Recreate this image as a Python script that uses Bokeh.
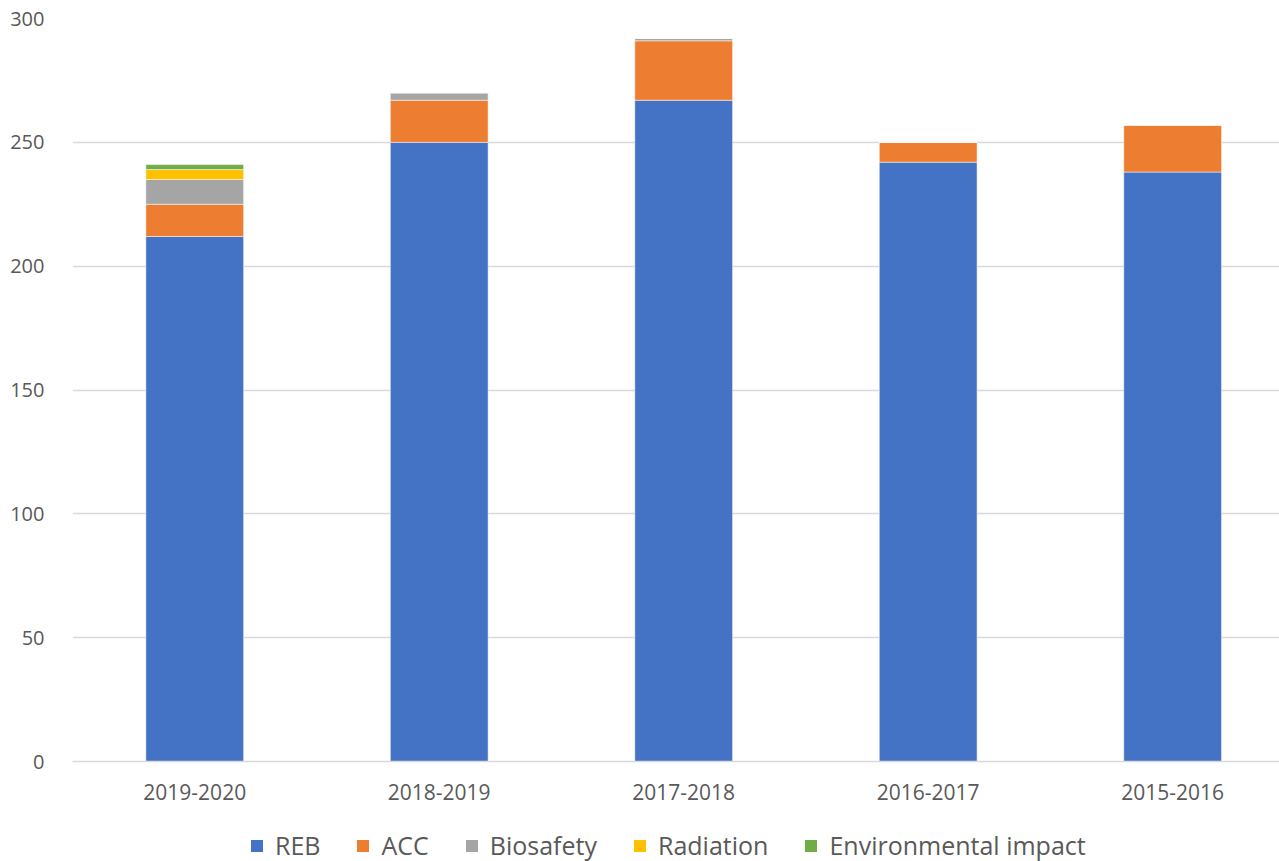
from bokeh.plotting import figure
from bokeh.layouts import column
from bokeh.models import ColumnDataSource, Range1d, FixedTicker, Legend, LegendItem
from bokeh.embed import file_html
from bokeh.resources import INLINE

categories = ["2019-2020", "2018-2019", "2017-2018", "2016-2017", "2015-2016"]
series = ["REB", "ACC", "Biosafety", "Radiation", "Environmental impact"]
reb = [212, 250, 267, 242, 238]
acc = [13, 17, 24, 8, 19]
biosafety = [10, 3, 1, 0, 0]
radiation = [4, 0, 0, 0, 0]
environmental = [2, 0, 0, 0, 0]
colors = ["#4472C4", "#ED7D31", "#A5A5A5", "#FFC000", "#70AD47"]
y_ticks = [0, 50, 100, 150, 200, 250, 300]

xs = [i + 0.5 for i in range(len(categories))]
source = ColumnDataSource(dict(x=xs, REB=reb, ACC=acc, Biosafety=biosafety,
                               Radiation=radiation, **{"Environmental impact": environmental}))

font = "Open Sans"
text_color = "#595959"

p = figure(frame_width=1207, frame_height=743, output_backend="svg", toolbar_location=None,
           x_range=Range1d(0, 4.937), y_range=Range1d(0, 300),
           min_border_left=72, min_border_right=0, min_border_top=18, min_border_bottom=68)
p.outline_line_color = None
p.background_fill_color = "white"

renderers = p.vbar_stack(series, x="x", width=0.4, source=source, color=colors,
                         line_color="white", line_width=0.5)

p.xgrid.grid_line_color = None
p.ygrid.grid_line_color = "#D9D9D9"
p.ygrid.grid_line_width = 1.5
p.ygrid.ticker = FixedTicker(ticks=y_ticks)

p.yaxis.ticker = FixedTicker(ticks=y_ticks)
p.yaxis.axis_line_color = None
p.yaxis.major_tick_line_color = None
p.yaxis.minor_tick_line_color = None
p.yaxis.major_label_text_font = font
p.yaxis.major_label_text_font_size = "20px"
p.yaxis.major_label_text_color = text_color
p.yaxis.major_label_standoff = 22

p.xaxis.ticker = FixedTicker(ticks=xs)
p.xaxis.major_label_overrides = {x: c for x, c in zip(xs, categories)}
p.xaxis.axis_line_color = "#D9D9D9"
p.xaxis.axis_line_width = 1.5
p.xaxis.major_tick_line_color = None
p.xaxis.minor_tick_line_color = None
p.xaxis.major_label_text_font = font
p.xaxis.major_label_text_font_size = "21px"
p.xaxis.major_label_text_color = text_color
p.xaxis.major_label_standoff = 16

# Legend strip below the chart (zero-height proxy bars carry the legend swatches)
lg = figure(width=1279, height=32, output_backend="svg", toolbar_location=None,
            x_range=Range1d(0, 1), y_range=Range1d(0, 1),
            x_axis_type=None, y_axis_type=None,
            min_border_left=0, min_border_right=0, min_border_top=0, min_border_bottom=0)
lg.outline_line_color = None
lg.xgrid.visible = False
lg.ygrid.visible = False
proxies = [lg.vbar(x=[0.5], top=[0], bottom=[0], width=0.01, fill_color=c, line_color=None)
           for c in colors]

legend = Legend(items=[LegendItem(label=s, renderers=[r]) for s, r in zip(series, proxies)],
                orientation="horizontal", location=(177, -1),
                label_text_font=font, label_text_font_size="25px",
                label_text_color=text_color, glyph_width=15, glyph_height=15,
                label_standoff=11, spacing=35, border_line_color=None,
                background_fill_alpha=0, padding=0, margin=0)
lg.add_layout(legend, "center")

layout = column(p, lg, spacing=0)
open("out.html", "w").write(file_html(layout, INLINE))
